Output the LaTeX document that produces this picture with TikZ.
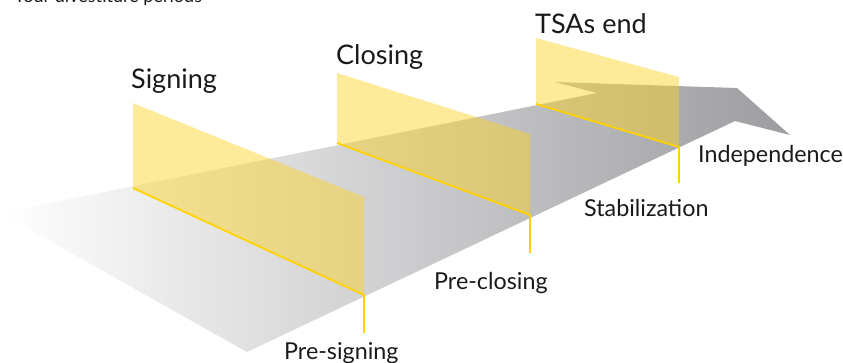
\documentclass[tikz,border=0pt]{standalone}
\usepackage{fontspec}
\setmainfont{Lato}
\definecolor{stripgray}{HTML}{9C9DA0}
\definecolor{panelyellow}{HTML}{FDD31F}
\definecolor{lineyellow}{HTML}{FFD200}
\definecolor{labeltext}{HTML}{1A1A1A}
\tikzset{
  panel/.style={fill=panelyellow, fill opacity=0.45},
  yline/.style={draw=lineyellow, line width=1.8pt},
  milestone/.style={anchor=base west, inner sep=0pt, text=labeltext, font=\fontsize{27}{30}\selectfont},
  phase/.style={anchor=base west, inner sep=0pt, text=labeltext, font=\fontsize{23.3}{26}\selectfont},
  title/.style={anchor=base west, inner sep=0pt, text=labeltext, font=\fontsize{18}{21}\selectfont}
}
\begin{document}
\begin{tikzpicture}[x=1pt,y=-1pt]
\useasboundingbox (0,0) rectangle (843,362);

% heading, mostly above the page edge
\node[title] (head) at (14,2) {Your divestiture periods};

% timeline strip with notched arrow head
\shade[left color=white, right color=stripgray]
  (0,213) -- (597,93) -- (555,82) -- (737,88) -- (790,135) -- (735,121) -- (247,352) -- cycle;

% panel corners
\coordinate (s1) at (133,103); \coordinate (s2) at (364,197);
\coordinate (s3) at (364,295); \coordinate (s4) at (133,188);
\coordinate (s5) at (364,333);
\coordinate (c1) at (337,73);  \coordinate (c2) at (530,134);
\coordinate (c3) at (530,215); \coordinate (c4) at (337,143);
\coordinate (c5) at (530,253);
\coordinate (t1) at (536,38);  \coordinate (t2) at (679,77);
\coordinate (t3) at (679,147); \coordinate (t4) at (536,104);
\coordinate (t5) at (679,183);

% translucent milestone panels
\fill[panel] (s1) -- (s2) -- (s3) -- (s4) -- cycle;
\fill[panel] (c1) -- (c2) -- (c3) -- (c4) -- cycle;
\fill[panel] (t1) -- (t2) -- (t3) -- (t4) -- cycle;

% base lines and drop lines
\draw[yline] (s4) -- (s3) -- (s5);
\draw[yline] (c4) -- (c3) -- (c5);
\draw[yline] (t4) -- (t3) -- (t5);

% milestone labels
\node[milestone] (signing) at (131,88) {Signing};
\node[milestone] (closing) at (336,64) {Closing};
\node[milestone] (tsas) at (535,33) {TSAs end};

% phase labels
\node[phase] (presign) at (284,359) {Pre-signing};
\node[phase] (preclose) at (434,289) {Pre-closing};
\node[phase] (stab) at (584,216) {Stabilization};
\node[phase] (indep) at (698,162) {Independence};
\end{tikzpicture}
\end{document}
